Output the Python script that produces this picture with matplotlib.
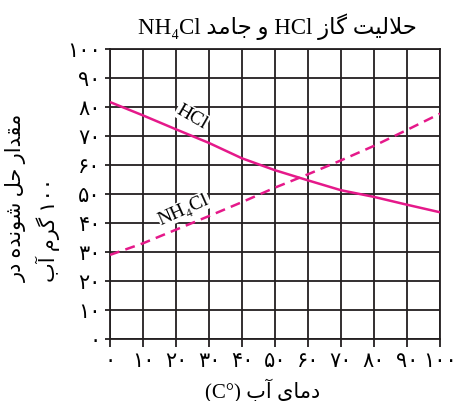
import re
import matplotlib
matplotlib.use("Agg")
import matplotlib.pyplot as plt

# ---------------- data ----------------
temps = [0, 10, 20, 30, 40, 50, 60, 70, 80, 90, 100]
hcl = [81.7, 77.1, 72.3, 67.6, 62.3, 58.2, 54.7, 51.3, 49.0, 46.3, 43.7]
nh4cl = [29.0, 33.0, 37.7, 42.4, 47.2, 52.2, 56.8, 61.6, 66.6, 72.1, 77.7]
x_ticks = [0, 10, 20, 30, 40, 50, 60, 70, 80, 90, 100]
y_ticks = [0, 10, 20, 30, 40, 50, 60, 70, 80, 90, 100]
title_text = "حلالیت گاز HCl و جامد NH₄Cl"
xlabel_text = "دمای آب (C°)"
ylabel_lines = ["مقدار حل شونده در", "۱۰۰ گرم آب"]
label_hcl = "HCl"
label_nh4cl = "NH₄Cl"

# ------------- minimal Persian shaping + visual reordering -------------
FORMS = {
    'ا': ('\uFE8D', '\uFE8E', None, None),
    'آ': ('\uFE81', '\uFE82', None, None),
    'ب': ('\uFE8F', '\uFE90', '\uFE91', '\uFE92'),
    'ت': ('\uFE95', '\uFE96', '\uFE97', '\uFE98'),
    'ج': ('\uFE9D', '\uFE9E', '\uFE9F', '\uFEA0'),
    'ح': ('\uFEA1', '\uFEA2', '\uFEA3', '\uFEA4'),
    'د': ('\uFEA9', '\uFEAA', None, None),
    'ر': ('\uFEAD', '\uFEAE', None, None),
    'ز': ('\uFEAF', '\uFEB0', None, None),
    'ش': ('\uFEB5', '\uFEB6', '\uFEB7', '\uFEB8'),
    'ق': ('\uFED5', '\uFED6', '\uFED7', '\uFED8'),
    'ل': ('\uFEDD', '\uFEDE', '\uFEDF', '\uFEE0'),
    'م': ('\uFEE1', '\uFEE2', '\uFEE3', '\uFEE4'),
    'ن': ('\uFEE5', '\uFEE6', '\uFEE7', '\uFEE8'),
    'ه': ('\uFEE9', '\uFEEA', '\uFEEB', '\uFEEC'),
    'و': ('\uFEED', '\uFEEE', None, None),
    'ی': ('\uFBFC', '\uFBFD', '\uFBFE', '\uFBFF'),
    'گ': ('\uFB92', '\uFB93', '\uFB94', '\uFB95'),
}
LAM_ALEF = {'ا': ('\uFEFB', '\uFEFC'), 'آ': ('\uFEF5', '\uFEF6')}


def _joins_next(c):
    return c in FORMS and FORMS[c][2] is not None


def shape(s):
    out = []
    i, n = 0, len(s)
    prev = False
    while i < n:
        c = s[i]
        if c not in FORMS:
            out.append(c)
            prev = False
            i += 1
            continue
        if c == 'ل' and i + 1 < n and s[i + 1] in LAM_ALEF:
            out.append(LAM_ALEF[s[i + 1]][1 if prev else 0])
            prev = False
            i += 2
            continue
        nxt = s[i + 1] if i + 1 < n else ''
        cn = _joins_next(c) and nxt in FORMS
        iso, fin, ini, med = FORMS[c]
        if prev and cn:
            f = med
        elif prev:
            f = fin
        elif cn:
            f = ini
        else:
            f = iso
        out.append(f)
        prev = _joins_next(c)
        i += 1
    return ''.join(out)


LTR = r"[A-Za-z0-9\u06F0-\u06F9\u2080-\u2089°()]"


def fa(s):
    t = shape(s)[::-1]
    return re.sub(LTR + r"+", lambda m: m.group(0)[::-1], t)


def fa_digits(v):
    return str(v).translate(str.maketrans("0123456789", "۰۱۲۳۴۵۶۷۸۹"))


FAM = ['Liberation Serif', 'DejaVu Sans']
plt.rcParams['font.family'] = FAM

W, H = 457, 402
fig = plt.figure(figsize=(W / 100, H / 100), dpi=100)
ax = fig.add_axes([110 / W, 1 - 340 / H, 330 / W, 290 / H])

grid_c = '#231f20'
curve_c = '#e5198a'

ax.plot(temps, hcl, color=curve_c, lw=1.8, solid_capstyle='butt', zorder=3)
ax.plot(temps, nh4cl, color=curve_c, lw=1.8, ls=(0, (4.0, 2.5)), zorder=3)

ax.set_xlim(0, 100)
ax.set_ylim(0, 100)
ax.set_xticks(x_ticks)
ax.set_yticks(y_ticks)
ax.set_xticklabels([fa_digits(v) for v in x_ticks], fontsize=15)
ax.set_yticklabels([fa_digits(v) for v in y_ticks], fontsize=15)
ax.tick_params(axis='x', length=5.5, width=1.3, color=grid_c, pad=4)
ax.tick_params(axis='y', length=3.6, width=1.3, color=grid_c, pad=3)
ax.grid(True, color=grid_c, lw=1.3, zorder=1)
ax.set_axisbelow(True)
for sp in ax.spines.values():
    sp.set_color(grid_c)
    sp.set_linewidth(1.3)

bb = dict(facecolor='white', edgecolor='none', pad=0.5)
ax.text(24.9, 76.8, label_hcl, rotation=-30, ha='center', va='center',
        fontsize=14, bbox=bb, zorder=4)
ax.text(22.4, 44.6, label_nh4cl, rotation=24, ha='center', va='center',
        fontsize=14, bbox=bb, zorder=4)

fig.text(277 / W, 1 - 27 / H, fa(title_text), ha='center', va='center',
         fontsize=16.5)
fig.text(263 / W, 1 - 391 / H, fa(xlabel_text), ha='center', va='center',
         fontsize=15)
fig.text(33 / W, 1 - 198 / H, "\n".join(fa(l) for l in ylabel_lines),
         rotation=90, ha='center', va='center', multialignment='left',
         fontsize=15, linespacing=1.45)

fig.savefig("out.png", dpi=100)
